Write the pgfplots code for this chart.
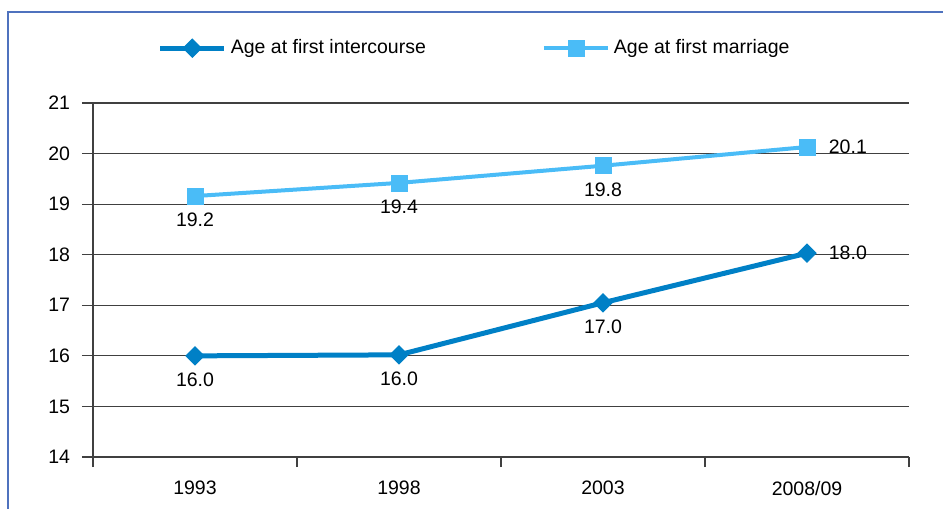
\documentclass[border=0pt]{standalone}
\usepackage{pgfplots}
\pgfplotsset{compat=1.18}
\usepackage{fontspec}
\setmainfont{Liberation Sans}
\definecolor{darkb}{HTML}{0080C6}
\definecolor{lightb}{HTML}{4ABCF7}
\definecolor{framec}{HTML}{4F72BE}

\pgfplotsset{lbl/.style={forget plot, draw=none, mark=none, nodes near coords, point meta=explicit symbolic,
  every node near coord/.append style={anchor=#1, font=\fontsize{9.75}{11.7}\selectfont, text=black}}}

\begin{document}
\fontsize{9.75}{11.7}\selectfont
\begin{tikzpicture}
\useasboundingbox (-46.5pt,-26pt) rectangle (425pt,228.5pt);
\begin{axis}[
  scale only axis, width=408pt, height=177pt,
  xmin=-0.5, xmax=3.5, ymin=14, ymax=21,
  axis x line*=bottom, axis y line*=left,
  axis line style={black!75, line width=0.7pt},
  ytick={14,15,...,21},
  ymajorgrids, grid style={black!75, line width=0.6pt},
  xtick={0,1,2,3}, xticklabels={1993,1998,2003,2008/09},
  minor xtick={-0.5,0.5,1.5,2.5,3.5},
  tick align=outside, major tick length=5.5pt, minor tick length=5pt,
  tick style={black!75, line width=0.6pt},
  major x tick style={draw=none},
  minor tick style={black!75, line width=0.6pt},
  /pgf/number format/assume math mode=true,
  ticklabel style={font=\fontsize{9.75}{11.7}\selectfont},
  xticklabel style={yshift=-3pt},
  yticklabel style={xshift=-2.5pt},
  legend style={draw=none, fill=none, at={(0.469,1.155)}, anchor=center,
    legend columns=2, font=\fontsize{9.75}{11.7}\selectfont,
    /tikz/every even column/.append style={column sep=56pt}},
  legend image code/.code={\draw[mark repeat=2,mark phase=2,#1] plot coordinates {(0pt,0pt)(16pt,0pt)(32pt,0pt)};},
]
\addplot[darkb, line width=2.5pt, mark=square*, mark size=3.2pt,
  mark options={rotate=45, line width=0.5pt, fill=darkb}] coordinates {(0,16.0) (1,16.02) (2,17.05) (3,18.03)};
\addlegendentry{Age at first intercourse}
\addplot[lightb, line width=2pt, mark=square*, mark size=4pt,
  mark options={line width=0.3pt, fill=lightb}] coordinates {(0,19.16) (1,19.42) (2,19.76) (3,20.13)};
\addlegendentry{Age at first marriage}
\addplot[lbl=north, every node near coord/.append style={yshift=-5pt}]
  coordinates {(0,16.0) [16.0] (1,16.02) [16.0] (2,17.05) [17.0] (0,19.16) [19.2] (1,19.42) [19.4] (2,19.76) [19.8]};
\addplot[lbl=west, every node near coord/.append style={xshift=7.5pt}]
  coordinates {(3,18.03) [18.0] (3,20.13) [20.1]};
\end{axis}
\draw[framec, line width=1pt] (-42.5pt,-60pt) rectangle (460pt,222.5pt);
\end{tikzpicture}
\end{document}
